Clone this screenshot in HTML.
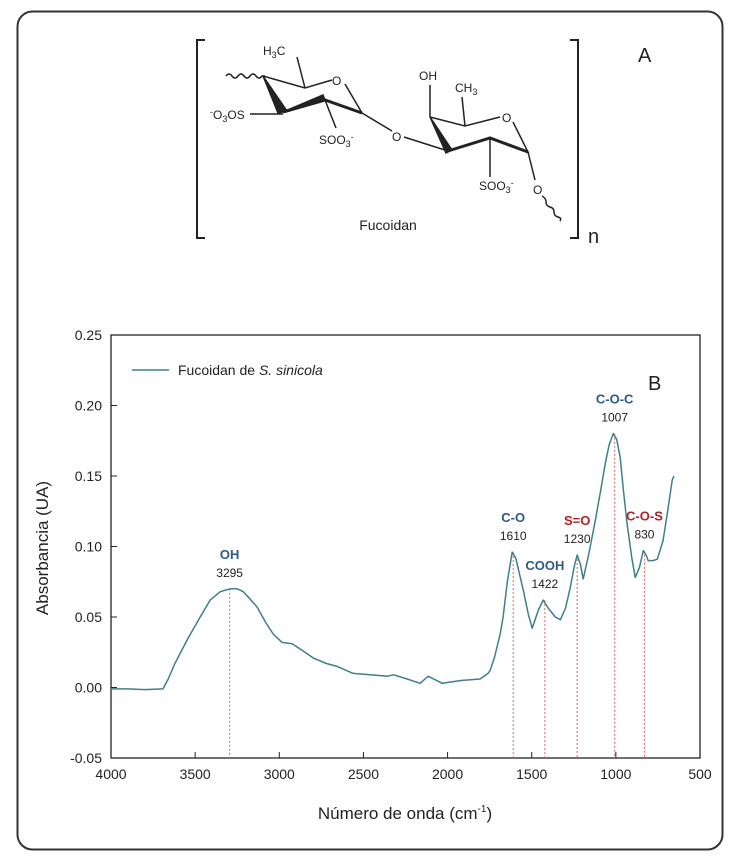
<!DOCTYPE html>
<html><head><meta charset="utf-8"><style>
body{margin:0;background:#fff;}
svg{display:block;font-family:"Liberation Sans",Arial,sans-serif;}
</style></head><body>
<svg width="736" height="861" viewBox="0 0 736 861">
<rect x="17.5" y="11.5" width="705" height="838" rx="15" fill="#fff" stroke="#333" stroke-width="2"/>
<g stroke="#222" stroke-width="1.5" fill="none">
<path d="M205,40 H197 V238 H205 M570,40 H578 V238 H570" stroke-width="2"/>
<path d="M226,76 q3,-4 6,0 t6,0 t6,0 t6,0 t6,0 t6,0 l3,0"/>
<path d="M263,76 L305,88 L332,80 M345,84 L362,113 L325,100 M305,88 L297,57"/>
<path d="M263,76 L278,113 L287,111 Z M283,112 L325,100 L323,95 Z" fill="#222"/>
<path d="M283,112 L325,100 L362,113" stroke-width="3"/>
<path d="M250,114 H283 M325,100 L336,128 M362,113 L392,131 M404,137 L448,151" />
<path d="M430,117 L465,126 L500,117 M513,122 L528,152 L490,138 M430,117 L430,85 M465,126 L462,97"/>
<path d="M430,117 L446,153 L452,150 Z" fill="#222"/>
<path d="M448,151 L490,138 L528,152" stroke-width="3"/>
<path d="M490,138 L490,177 M528,152 L535,180 M542,196 q4,2 4,6 t4,5 t4,5 t4,5 t2,4" />
</g>
<g font-size="12" fill="#222">
<text x="263" y="55">H<tspan font-size="9" dy="3">3</tspan><tspan dy="-3">C</tspan></text>
<text x="332" y="85">O</text>
<text x="210" y="119"><tspan font-size="9" dy="-4">-</tspan><tspan dy="4">O</tspan><tspan font-size="9" dy="3">3</tspan><tspan dy="-3">OS</tspan></text>
<text x="319" y="144">SOO<tspan font-size="9" dy="3">3</tspan><tspan font-size="9" dy="-7">-</tspan></text>
<text x="392" y="141">O</text>
<text x="419" y="80">OH</text>
<text x="455" y="92">CH<tspan font-size="9" dy="3">3</tspan></text>
<text x="502" y="122">O</text>
<text x="479" y="190">SOO<tspan font-size="9" dy="3">3</tspan><tspan font-size="9" dy="-7">-</tspan></text>
<text x="533" y="194">O</text>
<text x="388" y="230" font-size="14" text-anchor="middle">Fucoidan</text>
<text x="588" y="243" font-size="20">n</text>
</g>
<text x="638" y="62" font-size="20" fill="#222">A</text>
<text x="648" y="390" font-size="20" fill="#222">B</text>
<g id="chart"></g>
</svg>
<script>
const xTicks=[4000,3500,3000,2500,2000,1500,1000,500];
const yTicks=[-0.05,0.00,0.05,0.10,0.15,0.20,0.25];
const waveNumbers=[4000,3900,3800,3691,3660,3620,3542,3470,3411,3350,3292,3250,3215,3175,3132,3080,3037,2983,2924,2860,2799,2720,2656,2561,2460,2359,2320,2240,2163,2115,2032,1920,1806,1760,1747,1720,1687,1670,1645,1616,1595,1550,1520,1497,1460,1432,1400,1360,1330,1300,1271,1245,1230,1210,1194,1160,1123,1090,1063,1040,1016,995,974,955,933,905,885,860,837,820,808,780,754,720,695,665,655];
const absorbance=[-0.001,-0.001,-0.0015,-0.001,0.006,0.017,0.035,0.050,0.062,0.068,0.070,0.070,0.068,0.063,0.057,0.046,0.038,0.032,0.031,0.026,0.021,0.017,0.015,0.010,0.009,0.008,0.009,0.006,0.003,0.008,0.003,0.005,0.006,0.010,0.012,0.022,0.038,0.050,0.075,0.096,0.092,0.069,0.052,0.042,0.055,0.062,0.056,0.050,0.048,0.056,0.071,0.087,0.094,0.087,0.077,0.095,0.118,0.140,0.159,0.172,0.180,0.176,0.163,0.140,0.116,0.092,0.078,0.085,0.097,0.094,0.090,0.090,0.091,0.104,0.123,0.147,0.150];
const peakNames=["OH","C-O","COOH","S=O","C-O-C","C-O-S"];
const peakPositions=[3295,1610,1422,1230,1007,830];
const peakHeights=[0.070,0.096,0.062,0.094,0.180,0.097];
const peakColors=["#2e5a87","#2e5a87","#2e5a87","#b22222","#2e5a87","#b22222"];
const L=111,R=700,T=335,B=758;
const X=v=>L+(4000-v)/3500*(R-L);
const Y=v=>B-(v+0.05)/0.30*(B-T);
const NS="http://www.w3.org/2000/svg";
const g=document.getElementById('chart');
function mk(tag,attrs,txt){const e=document.createElementNS(NS,tag);for(const k in attrs)e.setAttribute(k,attrs[k]);if(txt!==undefined)e.textContent=txt;g.appendChild(e);return e;}
let e;
e=mk('rect',{x:L,y:T,width:R-L,height:B-T,fill:'none',stroke:'#222','stroke-width':1.3});


xTicks.forEach(t=>{
 e=mk('line',{x1:X(t),x2:X(t),y1:B,y2:B-6,stroke:'#222'});
 
 
 e=mk('text',{x:X(t),y:B+21,'text-anchor':'middle','font-size':14,fill:'#222'},String(t));
 
 
});
yTicks.forEach(t=>{
 e=mk('line',{x1:L,x2:L+6,y1:Y(t),y2:Y(t),stroke:'#222'});
 
 
 e=mk('text',{x:L-9,y:Y(t)+5,'text-anchor':'end','font-size':14,fill:'#222'},t.toFixed(2));
 
 
});
e=mk('text',{x:405,y:819,'text-anchor':'middle','font-size':17,fill:'#222'});
e.innerHTML='Número de onda (cm<tspan font-size="10" dy="-7">-1</tspan><tspan dy="7">)</tspan>';


e=mk('text',{x:48,y:548,'text-anchor':'middle','font-size':17,fill:'#222',transform:'rotate(-90 48 548)'},'Absorbancia (UA)');


peakPositions.forEach((p,i)=>{
 e=mk('line',{x1:X(p),x2:X(p),y1:Y(peakHeights[i]),y2:B,stroke:'#e06060','stroke-width':1,'stroke-dasharray':'2,2'});
 
 
});
let d=waveNumbers.map((w,i)=>(i?'L':'M')+X(w).toFixed(1)+','+Y(absorbance[i]).toFixed(1)).join(' ');
e=mk('path',{d:d,fill:'none',stroke:'#3f7f8c','stroke-width':1.5,'stroke-linejoin':'round'});


peakPositions.forEach((p,i)=>{
 const yy=Y(peakHeights[i]);
 e=mk('text',{x:X(p),y:yy-30,'text-anchor':'middle','font-size':13,'font-weight':'bold',fill:peakColors[i]},peakNames[i]);
 
 
 e=mk('text',{x:X(p),y:yy-12,'text-anchor':'middle','font-size':12,fill:'#222'},String(p));
 
 
});
e=mk('line',{x1:132,x2:169,y1:370,y2:370,stroke:'#3f7f8c','stroke-width':1.4});


e=mk('text',{x:178,y:375,'font-size':14,fill:'#222'});
e.innerHTML='Fucoidan de <tspan font-style="italic">S. sinicola</tspan>';


</script>
</body></html>
